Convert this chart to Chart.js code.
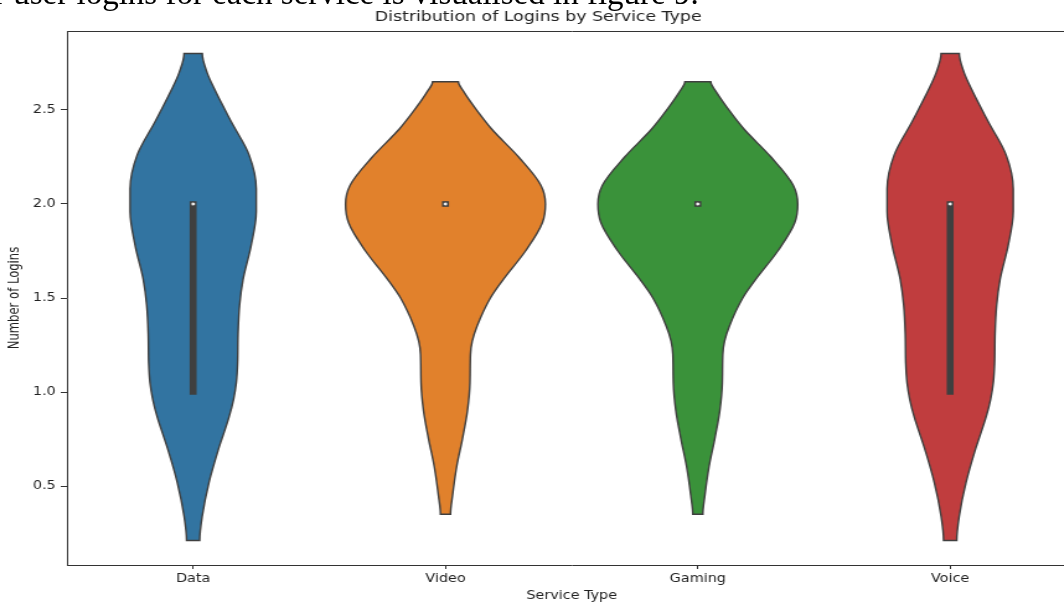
<!DOCTYPE html>
<html>
<head>
<meta charset="utf-8">
<script src="https://cdn.jsdelivr.net/npm/chart.js@4.4.0/dist/chart.umd.min.js"></script>
<style>
  html, body { margin: 0; padding: 0; background: #fff; overflow: hidden; width: 1064px; height: 603px; }
  #wrap { position: absolute; left: 0; top: 0; width: 922px; height: 603px; transform: scaleX(1.24); transform-origin: 0 0; }
  #wrap canvas { display: block; }
  #lead { position: absolute; left: -6px; top: -23px; font-family: 'Liberation Serif', 'Times New Roman', serif; font-size: 33px; line-height: 33px; color: #000; white-space: nowrap; }
</style>
</head>
<body>
<div id="wrap"><canvas id="chart" width="922" height="603"></canvas></div>
<div id="lead">r user logins for each service is visualised in figure 9.</div>
<script>
// Service categories and y-axis ticks
const services = ['Data', 'Video', 'Gaming', 'Voice'];
const yTicks = [0.5, 1.0, 1.5, 2.0, 2.5];

// Violin outlines: login levels (bottom to top) and half-widths in category units
const dataLevels       = [0.21, 0.34, 0.52, 0.69, 0.87, 0.96, 1.05, 1.15, 1.31, 1.46, 1.60, 1.78, 1.96, 2.08, 2.26, 2.44, 2.615, 2.70, 2.80];
const dataHalfWidths   = [0.026, 0.036, 0.063, 0.099, 0.143, 0.160, 0.171, 0.176, 0.178, 0.184, 0.198, 0.230, 0.250, 0.250, 0.222, 0.150, 0.083, 0.055, 0.036];

const videoLevels      = [0.35, 0.45, 0.60, 0.75, 0.90, 1.05, 1.20, 1.27, 1.35, 1.50, 1.60, 1.75, 1.90, 2.00, 2.10, 2.25, 2.40, 2.50, 2.60, 2.65];
const videoHalfWidths  = [0.020, 0.028, 0.044, 0.067, 0.087, 0.097, 0.099, 0.106, 0.125, 0.178, 0.230, 0.317, 0.384, 0.396, 0.378, 0.290, 0.182, 0.123, 0.071, 0.051];

const gamingLevels     = [0.35, 0.45, 0.60, 0.75, 0.90, 1.05, 1.20, 1.27, 1.35, 1.50, 1.60, 1.75, 1.90, 2.00, 2.10, 2.25, 2.40, 2.50, 2.60, 2.65];
const gamingHalfWidths = [0.020, 0.028, 0.044, 0.067, 0.087, 0.097, 0.099, 0.106, 0.125, 0.178, 0.230, 0.317, 0.384, 0.396, 0.378, 0.290, 0.182, 0.123, 0.071, 0.051];

const voiceLevels      = [0.21, 0.34, 0.52, 0.69, 0.87, 0.96, 1.05, 1.15, 1.31, 1.46, 1.60, 1.78, 1.96, 2.08, 2.26, 2.44, 2.615, 2.70, 2.80];
const voiceHalfWidths  = [0.026, 0.036, 0.063, 0.099, 0.143, 0.160, 0.171, 0.176, 0.178, 0.184, 0.198, 0.230, 0.250, 0.250, 0.222, 0.150, 0.083, 0.055, 0.036];

// Inner box: quartiles and medians per service
const q1      = [1, 2, 2, 1];
const medians = [2, 2, 2, 2];
const q3      = [2, 2, 2, 2];

// Styling
const fillColors = ['#3274a1', '#e1812c', '#3a923a', '#c03d3e'];
const edgeColor = '#3f3f3f';
const textColor = '#222';
const fontFamily = "'DejaVu Sans', sans-serif";

const profiles = [
  [dataLevels, dataHalfWidths],
  [videoLevels, videoHalfWidths],
  [gamingLevels, gamingHalfWidths],
  [voiceLevels, voiceHalfWidths]
];

// Closed outline: up the right side, across the top, down the left side, back to the bottom
function outline(center, levels, halfWidths) {
  const n = levels.length;
  const pts = [{ x: center, y: levels[0] }];
  for (let i = 0; i < n; i++) pts.push({ x: center + halfWidths[i], y: levels[i] });
  pts.push({ x: center, y: levels[n - 1] });
  for (let i = n - 1; i >= 0; i--) pts.push({ x: center - halfWidths[i], y: levels[i] });
  pts.push({ x: center, y: levels[0] });
  return pts;
}

// Fills each violin with the path of its own line element
const violinFill = {
  id: 'violinFill',
  beforeDatasetDraw(chart, args) {
    const ds = chart.data.datasets[args.index];
    if (!ds.violin) return;
    const line = args.meta.dataset;
    const ctx = chart.ctx;
    line.updateControlPoints(chart.chartArea, 'y');
    ctx.save();
    ctx.beginPath();
    line.path(ctx);
    ctx.closePath();
    ctx.fillStyle = ds.backgroundColor;
    ctx.fill();
    ctx.restore();
  }
};

const datasets = [];
profiles.forEach(([levels, halfWidths], i) => {
  datasets.push({
    label: services[i],
    violin: true,
    indexAxis: 'y',
    cubicInterpolationMode: 'monotone',
    data: outline(i, levels, halfWidths),
    backgroundColor: fillColors[i],
    borderColor: edgeColor,
    borderWidth: 1.4,
    fill: false,
    pointRadius: 0,
    order: 3
  });
});
services.forEach((s, i) => {
  datasets.push({
    label: s + ' box',
    data: [{ x: i, y: q1[i] }, { x: i, y: q3[i] }],
    borderColor: edgeColor,
    borderWidth: 5.6,
    borderCapStyle: 'square',
    pointRadius: 0,
    fill: false,
    order: 2
  });
});
datasets.push({
  label: 'median',
  data: services.map((s, i) => ({ x: i, y: medians[i] })),
  showLine: false,
  pointRadius: 1.8,
  pointBackgroundColor: '#f2f2f2',
  pointBorderColor: edgeColor,
  pointBorderWidth: 0.6,
  order: 1
});

Chart.defaults.font.family = fontFamily;

new Chart(document.getElementById('chart'), {
  type: 'line',
  data: { datasets },
  plugins: [violinFill],
  options: {
    responsive: false,
    animation: false,
    events: [],
    layout: { padding: { left: 0, right: 54, top: 0, bottom: 0 } },
    plugins: {
      legend: { display: false },
      tooltip: { enabled: false },
      title: {
        display: true,
        text: 'Distribution of Logins by Service Type',
        color: textColor,
        font: { size: 14, weight: 'normal', family: fontFamily },
        padding: { top: 9.4, bottom: 4.8 }
      }
    },
    scales: {
      x: {
        type: 'linear',
        position: 'bottom',
        min: -0.5,
        max: 3.5,
        afterBuildTicks: s => { s.ticks = services.map((_, i) => ({ value: i })); },
        afterFit: s => { s.height = 38; },
        ticks: {
          autoSkip: false,
          maxRotation: 0,
          padding: 3,
          color: textColor,
          font: { size: 11.6 },
          callback: v => services[v]
        },
        grid: { display: true, drawOnChartArea: false, drawTicks: true, tickLength: 4, color: '#333' },
        border: { display: true, color: '#333', width: 1 },
        title: {
          display: true,
          text: 'Service Type',
          color: textColor,
          font: { size: 11.6 },
          padding: { top: 0, bottom: 0 }
        }
      },
      x2: {
        type: 'linear',
        position: 'top',
        min: -0.5,
        max: 3.5,
        ticks: { display: false },
        grid: { display: false },
        border: { display: true, color: '#333', width: 1 },
        afterFit: s => { s.height = 0; }
      },
      y: {
        type: 'linear',
        position: 'left',
        min: 0.08,
        max: 2.92,
        afterBuildTicks: s => { s.ticks = yTicks.map(v => ({ value: v })); },
        afterFit: s => { s.width = 54; },
        ticks: {
          padding: 4,
          color: textColor,
          font: { size: 11.6 },
          callback: v => Number(v).toFixed(1)
        },
        grid: { display: true, drawOnChartArea: false, drawTicks: true, tickLength: 5, color: '#333' },
        border: { display: true, color: '#333', width: 1 },
        title: {
          display: true,
          text: 'Number of Logins',
          color: textColor,
          font: { size: 11.6 },
          padding: { top: 5, bottom: 0 }
        }
      }
    }
  }
});
</script>
</body>
</html>
